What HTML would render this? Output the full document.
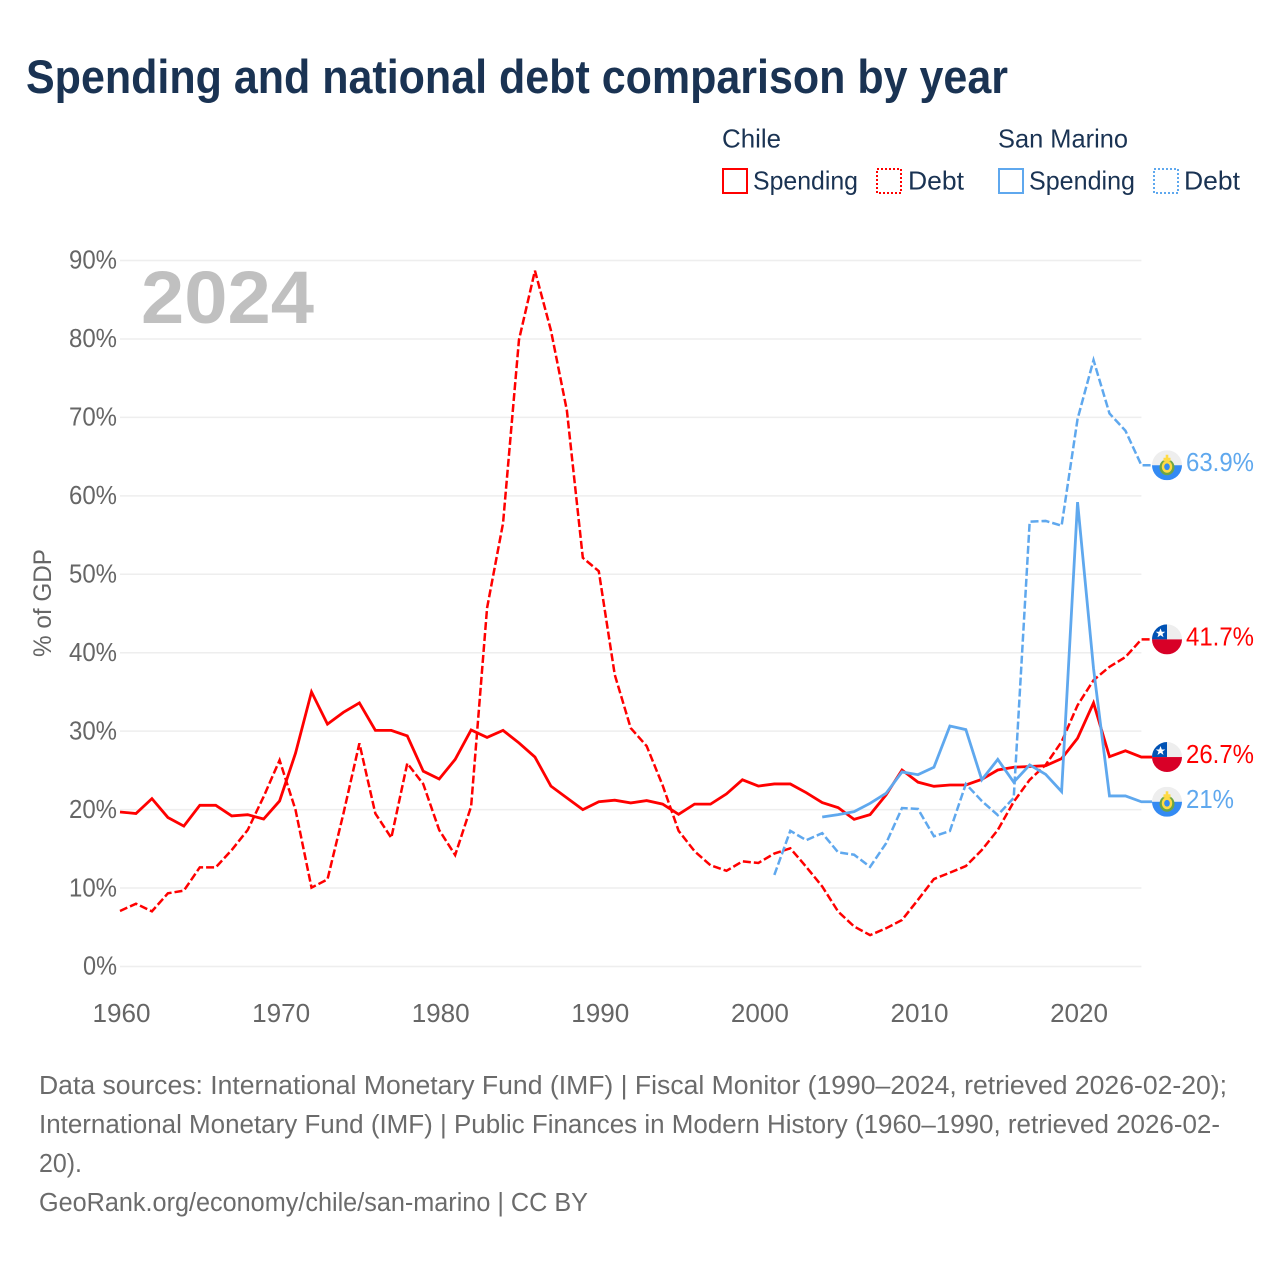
<!DOCTYPE html>
<html lang="en">
<head>
<meta charset="utf-8">
<title>Spending and national debt comparison by year</title>
<style>
html,body{margin:0;padding:0;background:#fff;}
svg{display:block;}
text{font-family:"Liberation Sans",sans-serif;}
</style>
</head>
<body>
<svg id="chart" xmlns="http://www.w3.org/2000/svg" width="1280" height="1280" viewBox="0 0 1280 1280">
  <defs>
    <clipPath id="flag-clip"><circle cx="0" cy="0" r="15"/></clipPath>
    <g id="flag-chile" clip-path="url(#flag-clip)">
      <rect x="-15" y="-15" width="30" height="15" fill="#eeeeee"/>
      <rect x="-15" y="-15" width="15" height="15" fill="#0052b4"/>
      <rect x="-15" y="0" width="30" height="15" fill="#d80027"/>
      <polygon transform="translate(1 0)" points="-7.5,-11 -6.2,-7.6 -2.7,-7.6 -5.5,-5.5 -4.5,-2.2 -7.5,-4.2 -10.5,-2.2 -9.5,-5.5 -12.3,-7.6 -8.8,-7.6" fill="#ffffff"/>
    </g>
    <g id="flag-san-marino" clip-path="url(#flag-clip)">
      <rect x="-15" y="-15" width="30" height="15" fill="#eeeeee"/>
      <rect x="-15" y="0" width="30" height="15" fill="#338af3"/>
      <ellipse cx="0" cy="2" rx="7.5" ry="8" fill="#6da544"/>
      <ellipse cx="0" cy="1.5" rx="5.2" ry="6" fill="#ffda44"/>
      <ellipse cx="0" cy="1.5" rx="2.8" ry="3.4" fill="#338af3"/>
      <rect x="-3.5" y="-7.5" width="7" height="3.5" fill="#ffda44"/>
      <rect x="-1.3" y="-10.5" width="2.6" height="3.5" fill="#ffda44"/>
    </g>
  </defs>

  <text x="26" y="93" font-size="47" font-weight="700" fill="#1a3353" textLength="982" lengthAdjust="spacingAndGlyphs">Spending and national debt comparison by year</text>

  <g>
    <text x="722" y="147.5" font-size="26" fill="#1a3353" textLength="59" lengthAdjust="spacingAndGlyphs">Chile</text>
    <text x="998" y="147.5" font-size="26" fill="#1a3353" textLength="130" lengthAdjust="spacingAndGlyphs">San Marino</text>
    <g>
      <rect x="723" y="169" width="24" height="24" fill="none" stroke="#ff0000" stroke-width="2"/>
      <text x="753" y="189.5" font-size="26" fill="#1a3353" textLength="105" lengthAdjust="spacingAndGlyphs">Spending</text>
    </g>
    <g>
      <rect x="877" y="169" width="24" height="24" fill="none" stroke="#ff0000" stroke-width="2" stroke-dasharray="2 2"/>
      <text x="908" y="189.5" font-size="26" fill="#1a3353" textLength="56" lengthAdjust="spacingAndGlyphs">Debt</text>
    </g>
    <g>
      <rect x="999" y="169" width="24" height="24" fill="none" stroke="#5fa8ee" stroke-width="2"/>
      <text x="1029" y="189.5" font-size="26" fill="#1a3353" textLength="106" lengthAdjust="spacingAndGlyphs">Spending</text>
    </g>
    <g>
      <rect x="1154" y="169" width="24" height="24" fill="none" stroke="#5fa8ee" stroke-width="2" stroke-dasharray="2 2"/>
      <text x="1184" y="189.5" font-size="26" fill="#1a3353" textLength="56" lengthAdjust="spacingAndGlyphs">Debt</text>
    </g>
  </g>

  <g id="grid"></g>
  <g id="y-ticks"></g>
  <g id="x-ticks"></g>

  <text x="0" y="0" transform="translate(51 603) rotate(-90)" text-anchor="middle" font-size="25" fill="#666666" textLength="108" lengthAdjust="spacingAndGlyphs">% of GDP</text>

  <text x="141" y="323" font-size="74" font-weight="700" fill="#c0c0c0" textLength="173" lengthAdjust="spacingAndGlyphs">2024</text>

  <g id="series"></g>
  <g id="end-labels"></g>

  <g font-size="25.5" fill="#6b6b6b">
    <text x="39" y="1094" textLength="1188" lengthAdjust="spacingAndGlyphs">Data sources: International Monetary Fund (IMF) | Fiscal Monitor (1990–2024, retrieved 2026-02-20);</text>
    <text x="39" y="1133" textLength="1181" lengthAdjust="spacingAndGlyphs">International Monetary Fund (IMF) | Public Finances in Modern History (1960–1990, retrieved 2026-02-</text>
    <text x="39" y="1172" textLength="43" lengthAdjust="spacingAndGlyphs">20).</text>
    <text x="39" y="1211" textLength="549" lengthAdjust="spacingAndGlyphs">GeoRank.org/economy/chile/san-marino | CC BY</text>
  </g>
</svg>

<script>
const years = [1960,1961,1962,1963,1964,1965,1966,1967,1968,1969,1970,1971,1972,1973,1974,1975,1976,1977,1978,1979,1980,1981,1982,1983,1984,1985,1986,1987,1988,1989,1990,1991,1992,1993,1994,1995,1996,1997,1998,1999,2000,2001,2002,2003,2004,2005,2006,2007,2008,2009,2010,2011,2012,2013,2014,2015,2016,2017,2018,2019,2020,2021,2022,2023,2024];
const chileSpending = [19.7,19.5,21.4,19.0,17.9,20.55,20.55,19.2,19.35,18.8,21.1,27.2,35.0,30.9,32.4,33.6,30.1,30.1,29.4,24.9,23.9,26.4,30.15,29.2,30.1,28.5,26.7,23.0,21.5,20.0,21.0,21.2,20.85,21.15,20.7,19.4,20.7,20.7,22.0,23.8,23.0,23.27,23.27,22.16,20.9,20.25,18.76,19.36,21.87,25.05,23.5,22.97,23.14,23.14,23.86,25.05,25.4,25.5,25.6,26.5,29.1,33.6,26.75,27.5,26.7];
const chileDebt = [7.08,8.0,7.03,9.33,9.67,12.64,12.64,14.85,17.4,21.65,26.3,19.95,10.05,11.1,19.5,28.45,19.5,16.4,25.9,23.27,17.4,14.2,20.4,45.7,56.5,79.9,88.7,81.1,70.9,52.1,50.4,37.2,30.4,28.1,23.1,17.3,14.7,12.9,12.2,13.4,13.2,14.4,15.07,12.7,10.2,7.0,5.1,4.0,4.87,5.93,8.5,11.15,11.96,12.8,14.85,17.4,21.0,23.8,25.7,28.65,33.3,36.5,38.2,39.45,41.7];
const sanMarinoSpending = [null,null,null,null,null,null,null,null,null,null,null,null,null,null,null,null,null,null,null,null,null,null,null,null,null,null,null,null,null,null,null,null,null,null,null,null,null,null,null,null,null,null,null,null,19.06,19.36,19.74,20.8,22.07,24.8,24.45,25.4,30.66,30.2,23.8,26.4,23.5,25.7,24.5,22.3,59.2,38.0,21.74,21.74,21];
const sanMarinoDebt = [null,null,null,null,null,null,null,null,null,null,null,null,null,null,null,null,null,null,null,null,null,null,null,null,null,null,null,null,null,null,null,null,null,null,null,null,null,null,null,null,null,11.67,17.3,16.1,17.0,14.55,14.25,12.7,15.7,20.2,20.08,16.6,17.27,23.27,21.1,19.3,21.5,56.7,56.8,56.2,69.8,77.3,70.5,68.3,63.9];
const yTickValues = [0,10,20,30,40,50,60,70,80,90];
const xTickValues = [1960,1970,1980,1990,2000,2010,2020];

const NS = 'http://www.w3.org/2000/svg';
const RED = '#ff0000';
const BLUE = '#5fa8ee';
const plotLeft = 120, plotRight = 1141.4, plotBottom = 966.5, plotTop = 260.5, stubEnd = 1152;
const xScale = v => plotLeft + (v - 1960) * (plotRight - plotLeft) / 64;
const yScale = v => plotBottom - v * (plotBottom - plotTop) / 90;

function make(tag, attrs) {
  const el = document.createElementNS(NS, tag);
  for (const k in attrs) el.setAttribute(k, attrs[k]);
  return el;
}

const gridG = document.getElementById('grid');
const yTickG = document.getElementById('y-ticks');
yTickValues.forEach(v => {
  const line = make('line', {x1: plotLeft, x2: plotRight, y1: yScale(v), y2: yScale(v), stroke: '#eeeeee', 'stroke-width': 1.5});
  
  
  gridG.appendChild(line);

  const label = v + '%';
  const t = make('text', {x: 117, y: yScale(v) + 8.2, 'text-anchor': 'end', 'font-size': 25.5, fill: '#666666', textLength: 14 * (label.length - 1) + 20, lengthAdjust: 'spacingAndGlyphs'});
  
  
  t.textContent = label;
  yTickG.appendChild(t);
});

const xTickG = document.getElementById('x-ticks');
xTickValues.forEach(v => {
  const t = make('text', {x: xScale(v) + 1.5, y: 1022, 'text-anchor': 'middle', 'font-size': 25.5, fill: '#666666', textLength: 58, lengthAdjust: 'spacingAndGlyphs'});
  
  
  t.textContent = String(v);
  xTickG.appendChild(t);
});

function linePath(values) {
  let d = '';
  values.forEach((v, i) => {
    if (v === null) return;
    d += (d ? 'L' : 'M') + xScale(years[i]).toFixed(2) + ' ' + yScale(v).toFixed(2);
  });
  return d + 'L' + stubEnd + ' ' + yScale(values[values.length - 1]).toFixed(2);
}

const seriesG = document.getElementById('series');

const lineChileDebt = make('path', {d: linePath(chileDebt), fill: 'none', stroke: RED, 'stroke-width': 2.5, 'stroke-dasharray': '8 3'});


seriesG.appendChild(lineChileDebt);

const lineChileSpending = make('path', {d: linePath(chileSpending), fill: 'none', stroke: RED, 'stroke-width': 2.8});


seriesG.appendChild(lineChileSpending);

const lineSmDebt = make('path', {d: linePath(sanMarinoDebt), fill: 'none', stroke: BLUE, 'stroke-width': 2.5, 'stroke-dasharray': '8 3'});


seriesG.appendChild(lineSmDebt);

const lineSmSpending = make('path', {d: linePath(sanMarinoSpending), fill: 'none', stroke: BLUE, 'stroke-width': 2.8});


seriesG.appendChild(lineSmSpending);

const endG = document.getElementById('end-labels');
function endLabel(values, flagId, color, key) {
  const v = values[values.length - 1];
  const cy = yScale(v);
  const flag = make('use', {href: '#' + flagId, transform: 'translate(1167 ' + cy.toFixed(2) + ')'});
  
  
  endG.appendChild(flag);

  const label = v + '%';
  const digits = label.replace(/[^0-9]/g, '').length;
  const width = digits * 14 + (label.indexOf('.') >= 0 ? 6 : 0) + 20;
  const t = make('text', {x: 1186, y: cy + 6, 'font-size': 26, fill: color, textLength: width, lengthAdjust: 'spacingAndGlyphs'});
  
  
  t.textContent = label;
  endG.appendChild(t);
}
endLabel(sanMarinoDebt, 'flag-san-marino', BLUE, 'san-marino-debt');
endLabel(chileDebt, 'flag-chile', RED, 'chile-debt');
endLabel(chileSpending, 'flag-chile', RED, 'chile-spending');
endLabel(sanMarinoSpending, 'flag-san-marino', BLUE, 'san-marino-spending');
</script>
</body>
</html>
